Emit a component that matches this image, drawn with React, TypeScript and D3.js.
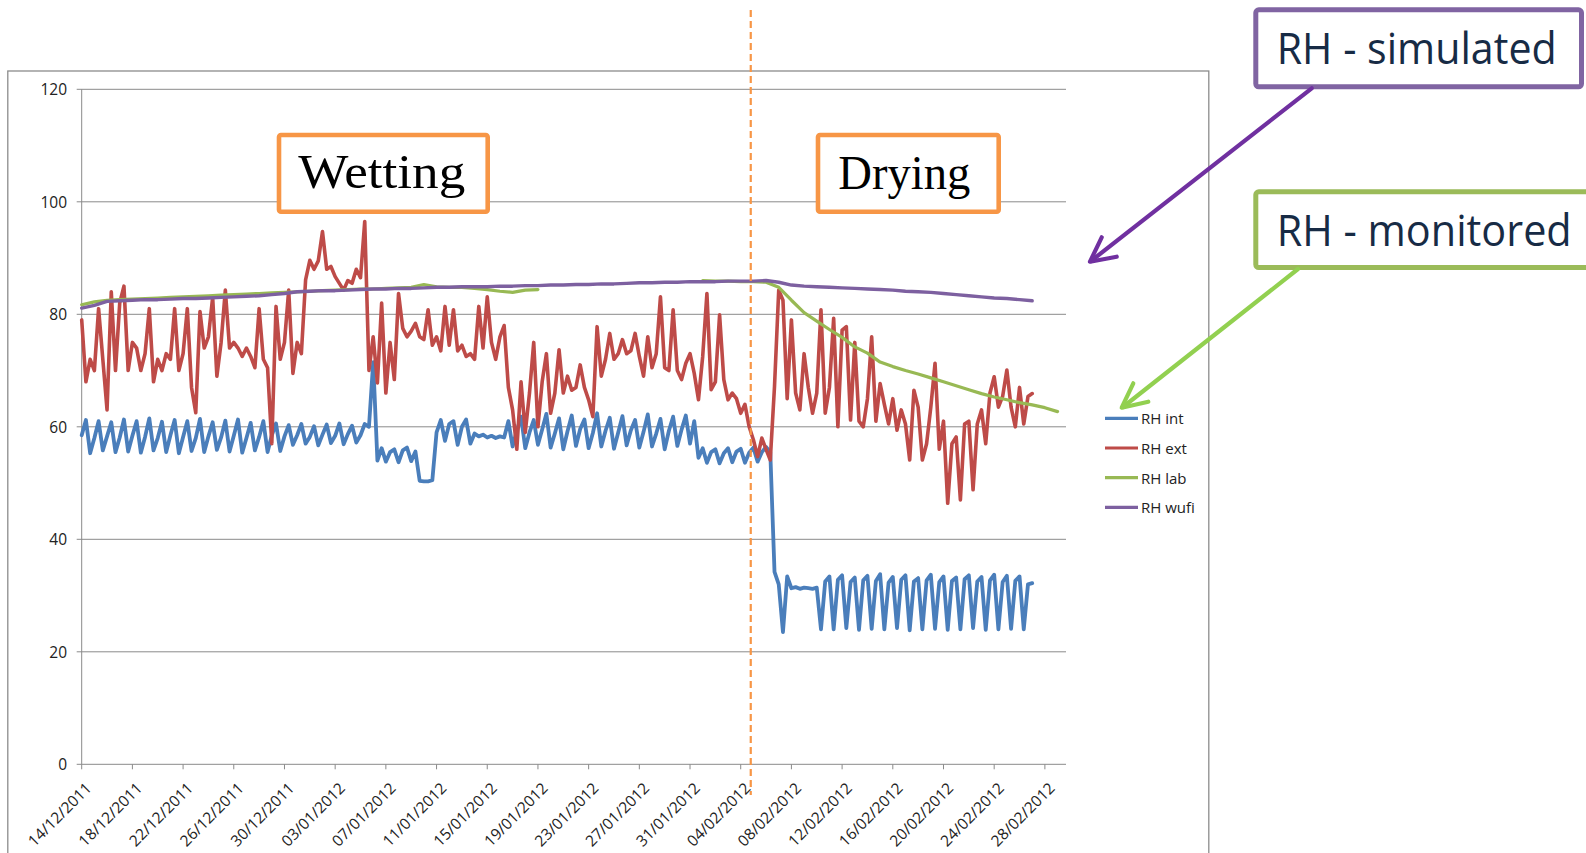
import * as d3 from 'd3';

const W = 1586;
const H = 853;

// plot area (pixel frame of the Excel chart)
const PLOT = { left: 81.7, right: 1066, top: 89.3, bottom: 764.3 };

const START = new Date(2011, 11, 14);
const X_END = new Date(2012, 1, 29, 16);
const STEP_HOURS = 8; // RH int / RH ext sampled every 8 h
const PHASE_SPLIT = new Date(2012, 1, 4, 19);

const Y_TICKS = [0, 20, 40, 60, 80, 100, 120];
const X_TICK_LABELS = [
  '14/12/2011', '18/12/2011', '22/12/2011', '26/12/2011', '30/12/2011',
  '03/01/2012', '07/01/2012', '11/01/2012', '15/01/2012', '19/01/2012',
  '23/01/2012', '27/01/2012', '31/01/2012', '04/02/2012', '08/02/2012',
  '12/02/2012', '16/02/2012', '20/02/2012', '24/02/2012', '28/02/2012',
];

// RH int, every 8 h from 14/12/2011
const RH_INT = [
  58.5, 61.2, 55.3, 58.0, 61.0, 55.8, 58.3, 60.8, 55.5, 58.1, 61.3, 55.6,
  58.4, 61.0, 55.4, 58.2, 61.5, 55.8, 58.0, 60.9, 55.5, 58.5, 61.2, 55.3,
  58.2, 61.0, 55.7, 58.0, 61.4, 55.5, 58.3, 60.8, 55.9, 58.1, 61.1, 55.6,
  58.4, 61.3, 55.4, 58.0, 60.7, 55.8, 58.2, 61.0, 55.5, 58.5, 60.6, 55.7,
  58.3, 60.3, 56.8, 58.5, 60.5, 57.0, 58.2, 60.1, 56.7, 58.6, 60.4, 57.1,
  58.4, 60.6, 56.9, 58.7, 60.2, 57.2,
  58.5, 60.5, 60.0, 71.5,
  54.0, 56.2, 53.8, 55.5, 56.0, 53.7, 55.8, 56.3, 53.9, 55.6,
  50.4, 50.3, 50.3,
  50.5, 59.0, 61.2, 57.5, 60.5, 61.0, 56.8, 60.0, 61.3, 57.0, 58.8,
  58.3, 58.6, 58.1, 58.4, 58.0, 58.3, 58.1,
  61.0, 56.5, 59.3, 61.8, 56.2, 59.0, 61.2, 56.8, 59.5, 62.3, 56.3, 58.8,
  61.5, 56.0, 59.2, 62.0, 56.6, 59.6, 61.3, 56.2, 58.9, 62.4, 56.5, 59.3,
  61.6, 56.1, 59.0, 61.9, 56.7, 59.4, 61.2, 56.3, 59.1, 62.2, 56.5, 58.8,
  61.4, 56.0, 59.3, 61.8, 56.6, 59.5, 62.0, 57.0, 61.0,
  54.5, 56.2, 53.6, 55.5, 56.0, 53.5, 55.3, 56.2, 53.7, 55.6, 56.1, 53.6,
  55.4, 56.3, 53.8, 55.5, 56.4, 55.5,
  34.2, 32.0, 23.5, 33.4, 31.3,
  31.5, 31.2, 31.4, 31.3, 31.2, 31.4,
  24.0,
  32.5, 33.4, 24.0, 32.8, 33.6, 24.2, 32.4, 33.2, 23.9, 32.7, 33.5, 24.1,
  32.6, 33.8, 24.0, 32.3, 33.3, 24.2, 32.8, 33.6, 23.8, 32.5, 33.1, 24.0,
  32.7, 33.7, 24.1, 32.4, 33.4, 23.9, 32.6, 33.2, 24.0, 32.9, 33.6, 24.2,
  32.5, 33.3, 23.9, 32.7, 33.7, 24.0, 32.4, 33.5, 24.1, 32.6, 33.4, 24.0,
  32.0, 32.2,
];

// RH ext, every 8 h from 14/12/2011
const RH_EXT = [
  79, 68, 72, 70, 81, 72, 63, 84, 70, 82, 85, 70,
  75, 74, 70, 73, 81, 68, 72, 70, 73, 72, 81, 70,
  73, 81, 67, 62.5, 80.5, 74, 76, 83, 69, 75, 84.3, 74,
  75, 74, 72.5, 74, 72.5, 70.5, 81, 72, 70.5, 57, 81.4, 72,
  75, 84.3, 69.5, 75, 73, 86.1, 89.6, 88, 89.5, 94.7, 88, 88.5,
  86.7, 85.5, 84.3, 86, 85.5, 88, 86.5, 96.5, 70, 76, 67.8, 82,
  66, 75, 68.4, 83.7, 77.5, 76, 77, 78.4, 76, 75.5, 80.8, 74.5,
  76, 73.5, 81.4, 74.5, 80.8, 73.5, 74.5, 72.5, 73, 72, 81.4, 74,
  83.1, 75, 72, 76, 78, 67, 63, 56, 68, 59, 66, 75,
  60, 68, 73, 62.4, 66, 73.7, 66, 69, 66.5, 67, 71, 67,
  64.8, 61.8, 77.8, 69, 72, 76.6, 72, 73, 75.5, 73, 73.5, 76.6,
  72.5, 69, 76, 70.5, 73, 83.1, 70.5, 70, 80.8, 70, 68.4, 71.3,
  73, 69.5, 64.8, 72.5, 83.7, 66.6, 68, 79.9, 68.4, 64.8, 66, 65,
  62.4, 64, 60, 57.7, 54.7, 58, 56, 54.1, 67.2, 84.3, 82.5, 65,
  79, 66, 63, 73, 67, 62.4, 66, 80.8, 62.4, 67, 79.3, 60,
  77.2, 77.8, 61.2, 75, 61, 60, 65, 76, 61, 67.7, 64, 60.5,
  65, 59.4, 63, 60.5, 54.1, 66.5, 63.5, 54.1, 57, 63.5, 71.3, 56,
  61, 46.4, 57, 58.2, 47, 60.5, 61, 48.8, 60.5, 63, 57, 66,
  68.9, 63.5, 65.4, 70.1, 63.5, 60, 67, 60.5, 65.4, 65.9,
];

// RH lab, daily from 14/12/2011 (gap = no readings)
const RH_LAB = [
  81.7, 82.2, 82.5, 82.6, 82.7, 82.8, 82.9, 83.0, 83.1, 83.2,
  83.3, 83.4, 83.5, 83.6, 83.7, 83.8, 83.9, 84.0, 84.1, 84.2,
  84.3, 84.4, 84.5, 84.5, 84.6, 84.7, 84.8, 85.3, 84.9, 84.8,
  84.8, 84.6, 84.4, 84.1, 83.9, 84.3, 84.4,
  null, null, null, null, null, null, null, null, null, null, null, null,
  86.0, 85.9, 85.9, 85.8, 85.8, 85.7, 84.8, 82.5, 80.3, 78.8,
  77.3, 75.9, 74.2, 73.1, 71.5, 70.7, 70.0, 69.4, 68.7, 68.0,
  67.3, 66.6, 65.9, 65.3, 64.8, 64.3, 63.9, 63.4, 62.7,
];

// RH wufi, daily from 14/12/2011
const RH_WUFI = [
  81.1, 81.6, 82.3, 82.4, 82.5, 82.6, 82.6, 82.7, 82.8, 82.8,
  82.9, 83.0, 83.1, 83.2, 83.3, 83.5, 83.7, 84.0, 84.1, 84.2,
  84.2, 84.3, 84.4, 84.5, 84.5, 84.6, 84.6, 84.7, 84.8, 84.8,
  84.9, 84.9, 84.9, 85.0, 85.0, 85.1, 85.1, 85.2, 85.2, 85.3,
  85.3, 85.4, 85.4, 85.5, 85.6, 85.6, 85.7, 85.7, 85.8, 85.8,
  85.8, 85.9, 85.9, 85.9, 86.0, 85.7, 85.2, 85.0, 84.9, 84.8,
  84.7, 84.6, 84.5, 84.4, 84.3, 84.1, 84.0, 83.9, 83.7, 83.5,
  83.3, 83.1, 82.9, 82.8, 82.6, 82.4,
];

type Pt = { t: Date; v: number | null };

const every8h = (vals: (number | null)[]): Pt[] =>
  vals.map((v, i) => ({ t: d3.timeHour.offset(START, i * STEP_HOURS), v }));
const daily = (vals: (number | null)[]): Pt[] =>
  vals.map((v, i) => ({ t: d3.timeDay.offset(START, i), v }));

const SERIES = [
  { name: 'RH int', color: '#4A7EBB', width: 3.8, data: every8h(RH_INT) },
  { name: 'RH ext', color: '#BE4B48', width: 3.6, data: every8h(RH_EXT) },
  { name: 'RH lab', color: '#98B954', width: 3.2, data: daily(RH_LAB) },
  { name: 'RH wufi', color: '#7D60A0', width: 3.4, data: daily(RH_WUFI) },
];

const AXIS_FONT = '"Open Sans", "Noto Sans", sans-serif';
const AXIS_SIZE = 15.5;
const GRID = '#8a8a8a';
const ORANGE = '#F79646';

export default function App() {
  const parse = d3.timeParse('%d/%m/%Y');
  const x = d3.scaleTime().domain([START, X_END]).range([PLOT.left, PLOT.right]);
  const y = d3.scaleLinear().domain([0, 120]).range([PLOT.bottom, PLOT.top]);

  const line = d3
    .line<Pt>()
    .defined((d) => d.v != null)
    .x((d) => x(d.t))
    .y((d) => y(d.v as number));

  const xTicks = X_TICK_LABELS.map((s) => ({ label: s, pos: x(parse(s) as Date) }));
  const splitX = x(PHASE_SPLIT);

  return (
    <div style={{ position: 'fixed', left: 0, top: 0 }}>
      <svg width={W} height={H} style={{ display: 'block', background: '#fff' }}>
        {/* chart frame */}
        <rect x={7.8} y={71} width={1201} height={820} fill="#fff" stroke="#8c8c8c" strokeWidth={1.3} />

        {/* grid + y labels */}
        {Y_TICKS.map((t) => (
          <g key={t}>
            <line x1={PLOT.left - 5} x2={PLOT.right} y1={y(t)} y2={y(t)} stroke={GRID} strokeWidth={1} />
            <text
              x={67}
              y={y(t)}
              textAnchor="end"
              dominantBaseline="central"
              fontFamily={AXIS_FONT}
              fontSize={AXIS_SIZE}
              fill="#222"
            >
              {t}
            </text>
          </g>
        ))}
        <line x1={PLOT.left} x2={PLOT.left} y1={PLOT.top} y2={PLOT.bottom} stroke={GRID} strokeWidth={1} />

        {/* x ticks + rotated labels */}
        {xTicks.map((d) => (
          <g key={d.label}>
            <line x1={d.pos} x2={d.pos} y1={PLOT.bottom} y2={PLOT.bottom + 5} stroke={GRID} strokeWidth={1} />
            <text
              transform={`translate(${d.pos + 3},${PLOT.bottom + 17}) rotate(-45)`}
              textAnchor="end"
              dy="0.72em"
              fontFamily={AXIS_FONT}
              fontSize={AXIS_SIZE}
              fill="#222"
            >
              {d.label}
            </text>
          </g>
        ))}

        {/* series */}
        {SERIES.map((s) => (
          <path
            key={s.name}
            d={line(s.data) ?? ''}
            fill="none"
            stroke={s.color}
            strokeWidth={s.width}
            strokeLinejoin="round"
            strokeLinecap="round"
          />
        ))}

        {/* wetting / drying split */}
        <line x1={splitX} x2={splitX} y1={10} y2={795} stroke={ORANGE} strokeWidth={2.2} strokeDasharray="7 4" />

        {/* phase labels */}
        <rect x={279} y={135} width={208.7} height={76.7} rx={2} fill="#fff" stroke={ORANGE} strokeWidth={4.6} />
        <text x={298.3} y={188.3} textLength={167} lengthAdjust="spacingAndGlyphs"
          fontFamily='"Liberation Serif", "DejaVu Serif", serif' fontSize={48} fill="#000">
          Wetting
        </text>
        <rect x={818} y={135} width={180.7} height={76.7} rx={2} fill="#fff" stroke={ORANGE} strokeWidth={4.6} />
        <text x={838.3} y={189.3} textLength={132} lengthAdjust="spacingAndGlyphs"
          fontFamily='"Liberation Serif", "DejaVu Serif", serif' fontSize={48} fill="#000">
          Drying
        </text>

        {/* legend */}
        {SERIES.map((s, i) => (
          <g key={s.name} transform={`translate(0,${418.3 + i * 29.7})`}>
            <line x1={1105} x2={1138} y1={0} y2={0} stroke={s.color} strokeWidth={3.2} />
            <text x={1141} y={0} dominantBaseline="central" fontFamily={AXIS_FONT} fontSize={15} fill="#222">
              {s.name}
            </text>
          </g>
        ))}

        {/* callouts */}
        <rect x={1255.8} y={9.8} width={325.7} height={77} rx={3} fill="#fff" stroke="#8064A2" strokeWidth={5} />
        <text x={1276.7} y={64} textLength={280} lengthAdjust="spacingAndGlyphs"
          fontFamily={AXIS_FONT} fontSize={43} fill="#172B45">
          RH - simulated
        </text>
        <rect x={1255.8} y={191.8} width={345} height={75.7} rx={3} fill="#fff" stroke="#9BBB59" strokeWidth={5} />
        <text x={1276.7} y={246} textLength={295} lengthAdjust="spacingAndGlyphs"
          fontFamily={AXIS_FONT} fontSize={43} fill="#172B45">
          RH - monitored
        </text>

        <g stroke="#7030A0" strokeWidth={4.2} fill="none" strokeLinecap="round" strokeLinejoin="round">
          <line x1={1311.7} y1={88.3} x2={1091} y2={261} />
          <polyline points="1101.7,237.3 1090,261.7 1116.7,256.7" />
        </g>
        <g stroke="#92D050" strokeWidth={4.2} fill="none" strokeLinecap="round" strokeLinejoin="round">
          <line x1={1298} y1={269} x2={1123} y2={407} />
          <polyline points="1133.3,383.3 1121.7,407.7 1148.3,401.7" />
        </g>
      </svg>
    </div>
  );
}
